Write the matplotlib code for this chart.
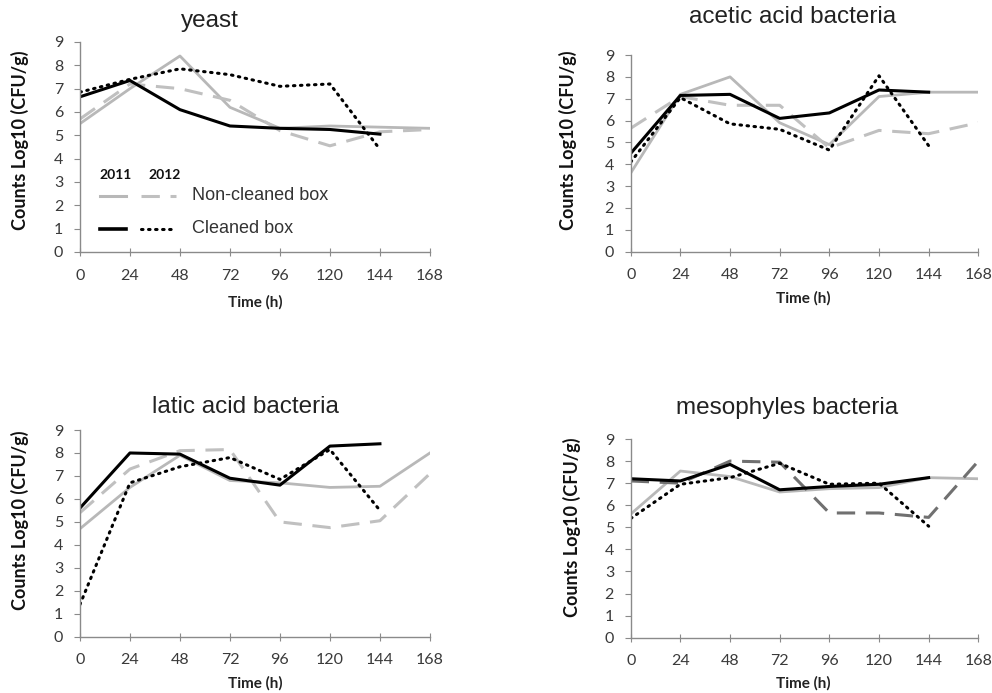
import matplotlib
matplotlib.use("Agg")
import matplotlib.pyplot as plt
from matplotlib.lines import Line2D

# ---- data ----
hours = [0, 24, 48, 72, 96, 120, 144, 168]
hours_c = [0, 24, 48, 72, 96, 120, 144]

yeast_nc_2011 = [5.5, 7.0, 8.4, 6.2, 5.3, 5.4, 5.35, 5.3]
yeast_nc_2012 = [5.7, 7.2, 7.0, 6.5, 5.2, 4.55, 5.15, 5.25]
yeast_c_2011 = [6.65, 7.35, 6.1, 5.4, 5.3, 5.25, 5.05]
yeast_c_2012 = [6.85, 7.4, 7.85, 7.6, 7.1, 7.2, 4.4]

aab_nc_2011 = [3.6, 7.2, 8.0, 5.9, 4.9, 7.1, 7.3, 7.3]
aab_nc_2012 = [5.65, 7.1, 6.7, 6.7, 4.75, 5.55, 5.4, 5.9]
aab_c_2011 = [4.5, 7.15, 7.2, 6.1, 6.35, 7.4, 7.3]
aab_c_2012 = [4.1, 7.05, 5.85, 5.6, 4.65, 8.05, 4.85]

lab_nc_2011 = [4.7, 6.5, 7.9, 6.8, 6.7, 6.5, 6.55, 8.0]
lab_nc_2012 = [5.4, 7.3, 8.1, 8.15, 5.0, 4.75, 5.05, 7.1]
lab_c_2011 = [5.6, 8.0, 7.95, 6.9, 6.6, 8.3, 8.4]
lab_c_2012 = [1.4, 6.7, 7.4, 7.8, 6.85, 8.15, 5.5]

mes_nc_2011 = [5.6, 7.55, 7.3, 6.6, 6.75, 6.8, 7.25, 7.2]
mes_nc_2012 = [7.1, 7.0, 8.0, 7.95, 5.65, 5.65, 5.45, 8.0]
mes_c_2011 = [7.2, 7.1, 7.85, 6.7, 6.85, 6.95, 7.25]
mes_c_2012 = [5.4, 6.95, 7.25, 7.9, 6.95, 7.0, 5.05]

titles = ["yeast", "acetic acid bacteria", "latic acid bacteria", "mesophyles bacteria"]
xticks = [0, 24, 48, 72, 96, 120, 144, 168]
yticks = list(range(0, 10))

# ---- styling ----
TICKFONT = "Lato"
TITLEFONT = "Liberation Sans"
LIGHT = "#b8b8b8"
DASHLIGHT = "#c0c0c0"
DOTS = (0, (0.5, 1.8))

fig = plt.figure(figsize=(9.92, 6.93), dpi=100)

positions = [
    (0.0806, 0.6364, 0.3528, 0.3030),
    (0.6358, 0.6368, 0.3504, 0.2838),
    (0.0806, 0.0812, 0.3528, 0.2983),
    (0.6358, 0.0798, 0.3504, 0.2867),
]
title_pos = [(210, 21), (793, 17), (245, 407), (787, 408)]
ylabel_pos = [(20, 140), (568, 140), (20, 520), (572, 527)]
xlabel_pos = [(255, 302), (803, 298), (255, 683), (803, 683)]

datasets = [
    (yeast_nc_2011, yeast_nc_2012, yeast_c_2011, yeast_c_2012),
    (aab_nc_2011, aab_nc_2012, aab_c_2011, aab_c_2012),
    (lab_nc_2011, lab_nc_2012, lab_c_2011, lab_c_2012),
    (mes_nc_2011, mes_nc_2012, mes_c_2011, mes_c_2012),
]

W, H = 992.0, 693.0
for i, (pos, data) in enumerate(zip(positions, datasets)):
    ax = fig.add_axes(pos)
    nc11, nc12, c11, c12 = data
    dash_col = "#707070" if i == 3 else DASHLIGHT
    ax.plot(hours, nc11, color=LIGHT, lw=2.0)
    ax.plot(hours, nc12, color=dash_col, lw=2.2, dashes=(6, 3.5))
    ax.plot(hours_c, c11, color="black", lw=2.2)
    ax.plot(hours_c, c12, color="black", lw=2.2, linestyle=DOTS,
            dash_capstyle="round")
    ax.set_xlim(0, 168)
    ax.set_ylim(0, 9)
    ax.set_xticks(xticks)
    ax.set_yticks(yticks)
    for s in ["top", "right"]:
        ax.spines[s].set_visible(False)
    for s in ["left", "bottom"]:
        ax.spines[s].set_color("#8a8a8a")
        ax.spines[s].set_linewidth(1.0)
    ax.tick_params(axis="x", direction="inout", length=6, color="#8a8a8a",
                   labelsize=11.5, labelcolor="#3a3a3a", pad=9)
    ax.tick_params(axis="y", direction="out", length=4, color="#8a8a8a",
                   labelsize=11.5, labelcolor="#3a3a3a", pad=8)
    for lab in ax.get_xticklabels() + ax.get_yticklabels():
        lab.set_fontfamily(TICKFONT)
    ax.patch.set_alpha(0)

    tx, ty = title_pos[i]
    fig.text(tx / W, 1 - ty / H, titles[i], ha="center", va="center",
             fontsize=17.5, family=TITLEFONT, color="#222222")
    yx, yy = ylabel_pos[i]
    fig.text(yx / W, 1 - yy / H, "Counts Log10 (CFU/g)", ha="center", va="center",
             rotation=90, fontsize=13, fontweight="bold", family=TICKFONT, color="#111111")
    xx, xy = xlabel_pos[i]
    fig.text(xx / W, 1 - xy / H, "Time (h)", ha="center", va="center",
             fontsize=11, fontweight="bold", family=TICKFONT, color="#222222")

    if i == 0:
        tr = ax.transAxes
        ax.text(0.057, 0.367, "2011", transform=tr, fontsize=10, fontweight="bold",
                family=TICKFONT, va="center", ha="left", color="#111111")
        ax.text(0.195, 0.367, "2012", transform=tr, fontsize=10, fontweight="bold",
                family=TICKFONT, va="center", ha="left", color="#111111")
        ax.add_line(Line2D([0.057, 0.131], [0.267, 0.267], transform=tr,
                           color=LIGHT, lw=2.2))
        ax.add_line(Line2D([0.173, 0.274], [0.267, 0.267], transform=tr,
                           color=DASHLIGHT, lw=2.2, dashes=(6, 3.5)))
        ax.add_line(Line2D([0.057, 0.131], [0.111, 0.111], transform=tr,
                           color="black", lw=2.6))
        ax.add_line(Line2D([0.173, 0.274], [0.111, 0.111], transform=tr,
                           color="black", lw=2.2, linestyle=DOTS,
                           dash_capstyle="round"))
        ax.text(0.32, 0.267, "Non-cleaned box", transform=tr, fontsize=13,
                family=TITLEFONT, va="center", ha="left", color="#333333")
        ax.text(0.32, 0.111, "Cleaned box", transform=tr, fontsize=13,
                family=TITLEFONT, va="center", ha="left", color="#333333")

fig.savefig("out.png", dpi=100)
